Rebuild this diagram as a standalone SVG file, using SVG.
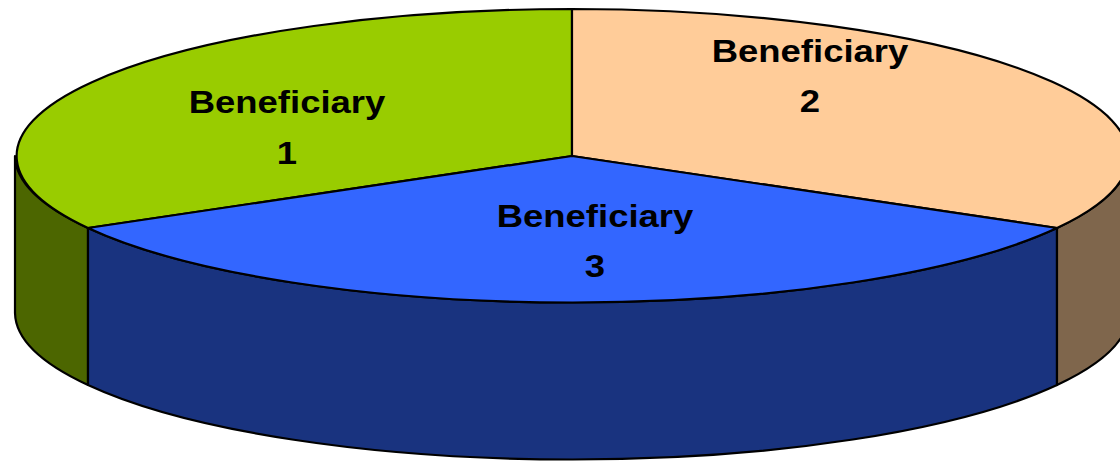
<svg xmlns="http://www.w3.org/2000/svg" width="1120" height="461" viewBox="0 0 1120 461">
<style>
.s{stroke:#000;stroke-width:2.2;stroke-linejoin:round}
.t{font-family:"Liberation Sans",Arial,sans-serif;font-weight:bold;font-size:32px;fill:#000;text-anchor:middle}
</style>
<rect width="1120" height="461" fill="#fff"/>
<g id="sides">
<path id="side-green" class="s" fill="#4C6600" d="M15 156 A557 147 0 0 0 88 228 L88 385 A557 147 0 0 1 15 313 Z"/>
<path id="side-blue" class="s" fill="#19337F" d="M88 228 A557 147 0 0 0 1057 228 L1057 385 A557 147 0 0 1 88 385 Z"/>
<path id="side-brown" class="s" fill="#7F664C" d="M1057 228 A557 147 0 0 0 1129 156 L1129 313 A557 147 0 0 1 1057 385 Z"/>
</g>
<g id="slice1">
<path class="s" fill="#99CC00" d="M572 156 L572 9 A557 147 0 0 0 88 228 Z"/>
<text class="t" transform="translate(287 113) scale(1.14 1)">Beneficiary</text>
<text class="t" transform="translate(287 164) scale(1.14 1)">1</text>
</g>
<g id="slice2">
<path class="s" fill="#FFCC99" d="M572 156 L572 9 A557 147 0 0 1 1057 228 Z"/>
<text class="t" transform="translate(810 62) scale(1.14 1)">Beneficiary</text>
<text class="t" transform="translate(810 112) scale(1.14 1)">2</text>
</g>
<g id="slice3">
<path class="s" fill="#3366FF" d="M572 156 L88 228 A557 147 0 0 0 1057 228 Z"/>
<text class="t" transform="translate(595 227) scale(1.14 1)">Beneficiary</text>
<text class="t" transform="translate(595 277) scale(1.14 1)">3</text>
</g>
</svg>
